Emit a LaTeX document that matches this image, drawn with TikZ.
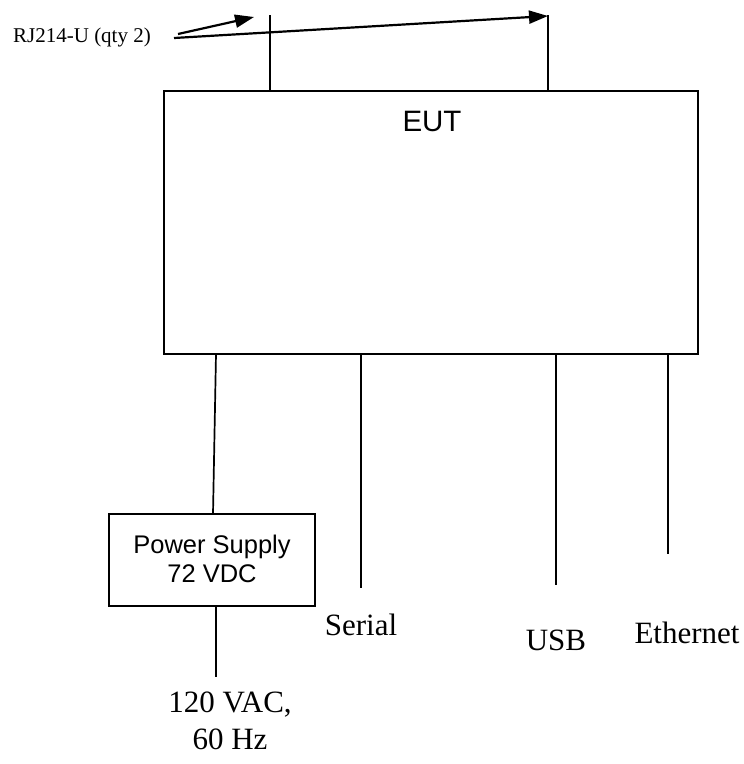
\documentclass[tikz,border=0pt]{standalone}
\usepackage{fontspec}
\setmainfont{Liberation Serif}
\newfontfamily\arialf{Liberation Sans}
\usetikzlibrary{arrows.meta}
\begin{document}
\begin{tikzpicture}[x=1pt,y=-1pt,
  boxst/.style={draw,line width=1.9pt},
  wire/.style={line width=1.7pt},
  arr/.style={line width=2.2pt,-{Triangle[length=19pt,width=13pt]}},
  sermid/.style={font=\fontsize{31}{37}\selectfont,inner sep=0pt},
  sanslab/.style={font=\arialf\fontsize{25.5}{29}\selectfont,inner sep=0pt,align=center}]
\useasboundingbox (0,0) rectangle (744,764);
% EUT box
\node[boxst,minimum width=534pt,minimum height=263pt,inner sep=0pt] (eut) at (431,222.5) {};
\node[font=\arialf\fontsize{29.5}{33}\selectfont,inner sep=0pt] (eutl) at (432,121) {EUT};
% top connectors
\coordinate (t1) at (270,15);
\coordinate (t2) at (548,15);
\draw[wire] (t1) -- (t1 |- eut.north);
\draw[wire] (t2) -- (t2 |- eut.north);
\node[font=\fontsize{21}{25}\selectfont,inner sep=0pt] (rj) at (82,37) {RJ214-U (qty 2)};
\coordinate (a1s) at (178,34);
\coordinate (a1e) at (254,17);
\coordinate (a2s) at (174,38);
\coordinate (a2e) at (548,16);
\draw[arr] (a1s) -- (a1e);
\draw[arr] (a2s) -- (a2e);
% power supply
\node[boxst,minimum width=206pt,minimum height=92pt,inner sep=0pt] (ps) at (212,560) {};
\node[sanslab] (psl) at (212,559) {Power Supply\\72 VDC};
\coordinate (p1) at (216,354);
\coordinate (p2) at (213,514);
\draw[wire] (p1) -- (p2);
\coordinate (ac) at (216,677);
\draw[wire] (ac |- ps.south) -- (ac);
\node[sermid,align=center] (acl) at (230,721) {120 VAC,\\60 Hz};
% serial
\coordinate (s1) at (361,354);
\coordinate (s2) at (361,588);
\draw[wire] (s1) -- (s2);
\node[sermid] (serl) at (361,625) {Serial};
% usb
\coordinate (u1) at (556,354);
\coordinate (u2) at (556,585);
\draw[wire] (u1) -- (u2);
\node[sermid] (usbl) at (556,640) {USB};
% ethernet
\coordinate (e1) at (668,354);
\coordinate (e2) at (668,554);
\draw[wire] (e1) -- (e2);
\node[sermid] (ethl) at (687,633) {Ethernet};
\end{tikzpicture}
\end{document}
